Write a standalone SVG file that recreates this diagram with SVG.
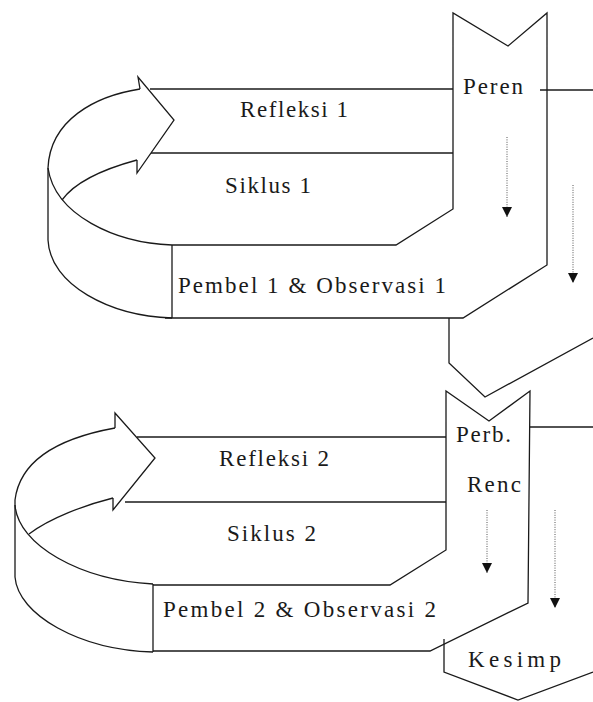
<svg xmlns="http://www.w3.org/2000/svg" width="593" height="702" viewBox="0 0 593 702">
<style>
.ln{fill:none;stroke:#1a1a1a;stroke-width:1.3;stroke-linejoin:miter}
.t{font-family:"Liberation Serif","Times New Roman",serif;font-size:23px;fill:#1a1a1a}
.dot{fill:none;stroke:#555;stroke-width:1;stroke-dasharray:1 1.4}
</style>
<defs>
<marker id="ah" viewBox="0 0 10 10" refX="10" refY="5" markerWidth="10" markerHeight="10" markerUnits="userSpaceOnUse" orient="auto">
<path d="M0,0 L10,5 L0,10 z" fill="#111"/>
</marker>
</defs>
<rect width="593" height="702" fill="#fff"/>

<g id="cycle1-arrow">
<path class="ln" d="M140,89 C95,96 50,120 48,168 L48,240 C50,285 110,316 172,318"/>
<path class="ln" d="M48,168 C55,215 115,243 172,245"/>
<path class="ln" d="M137,160 C100,170 75,182 62,200"/>
<path class="ln" d="M140,89 L138,77 L174,120 L137,173 L137,160"/>
</g>

<g id="refleksi-1">
<path class="ln" d="M150,89 L453,89"/>
<text class="t" x="240" y="117" textLength="108">Refleksi 1</text>
</g>

<g id="siklus-1">
<path class="ln" d="M151,153 L453,153"/>
<text class="t" x="225" y="193" textLength="86">Siklus 1</text>
</g>

<g id="pembel-1">
<path class="ln" d="M172,245 L172,318"/>
<text class="t" x="178" y="293" textLength="268">Pembel 1 &amp; Observasi 1</text>
</g>

<g id="peren">
<path class="ln" d="M172,245 L396,245 L453,209 L453,13 L508,46 L547,13 L547,265 L463,318 L165,318"/>
<text class="t" x="463" y="94" textLength="60">Peren</text>
</g>

<g id="transisi">
<path class="ln" d="M449,318 L449,363 L485,397 L593,338"/>
</g>

<g id="cycle2-arrow">
<path class="ln" d="M115,428 C60,438 20,460 15,500 L15,577 C18,615 80,650 153,652"/>
<path class="ln" d="M15,505 C18,545 80,580 153,584"/>
<path class="ln" d="M113,498 C85,505 50,518 29,534"/>
<path class="ln" d="M115,428 L115,413 L155,458 L113,510 L113,498"/>
</g>

<g id="refleksi-2">
<path class="ln" d="M137,437 L446,437"/>
<text class="t" x="219" y="466" textLength="110">Refleksi 2</text>
</g>

<g id="siklus-2">
<path class="ln" d="M125,502 L446,502"/>
<text class="t" x="227" y="541" textLength="89">Siklus 2</text>
</g>

<g id="pembel-2">
<path class="ln" d="M153,584 L153,652"/>
<text class="t" x="163" y="617" textLength="273">Pembel 2 &amp; Observasi 2</text>
</g>

<g id="perb-renc">
<path class="ln" d="M153,585 L390,585 L446,550 L446,391 L489,421 L530,391 L528,603 L430,651 L153,651"/>
<text class="t" x="456" y="442" textLength="55">Perb.</text>
<text class="t" x="467" y="492" textLength="54">Renc</text>
</g>

<g id="kesimp">
<path class="ln" d="M444,639 L444,672 L518,700 L593,672"/>
<text class="t" x="468" y="667" textLength="93">Kesimp</text>
</g>

<g id="connectors">
<path class="ln" d="M540,90 L593,90"/>
<path class="ln" d="M530,427 L593,427"/>
<path class="dot" d="M507,137 L507,217" marker-end="url(#ah)"/>
<path class="dot" d="M573,185 L573,283" marker-end="url(#ah)"/>
<path class="dot" d="M487,510 L487,573" marker-end="url(#ah)"/>
<path class="dot" d="M555,510 L555,608" marker-end="url(#ah)"/>
</g>
</svg>
